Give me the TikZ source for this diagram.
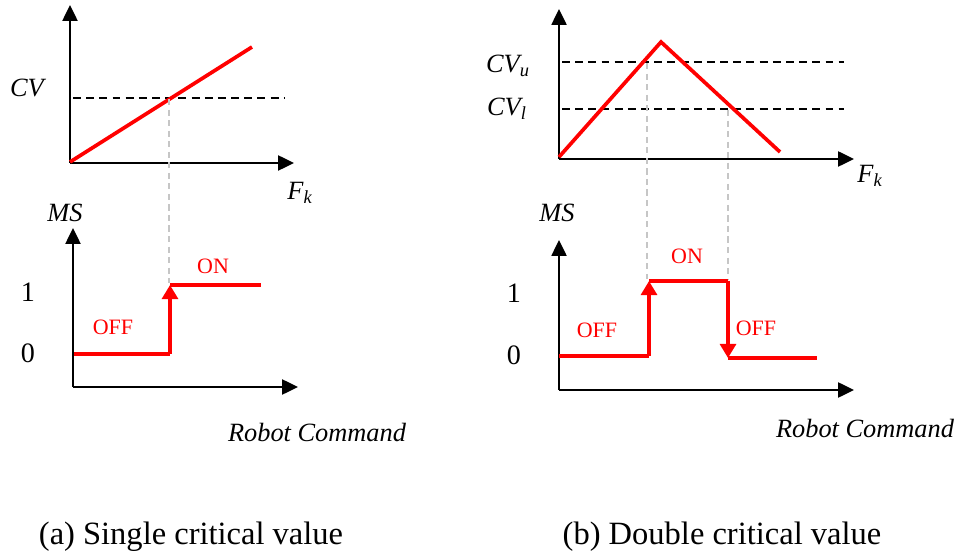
\documentclass[tikz,border=0pt]{standalone}
\usepackage{amsmath}
\usepackage{fontspec}
\setmainfont{Liberation Serif}
\usetikzlibrary{arrows.meta, positioning}

\tikzset{
  axis/.style={line width=1.2pt, -{Triangle[length=9pt,width=8.5pt]}},
  critline/.style={line width=1.2pt, dash pattern=on 4.5pt off 3pt},
  guide/.style={gray!45, line width=0.6pt, dash pattern=on 3.5pt off 2.5pt},
  signal/.style={red, line width=2.1pt, line join=miter},
  switch/.style={signal, -{Triangle[length=8pt,width=9pt]}},
  varlabel/.style={font=\itshape\fontsize{15}{17}\selectfont},
  levellabel/.style={font=\fontsize{16}{18}\selectfont},
  statelabel/.style={red, font=\fontsize{12.5}{14}\selectfont},
  caption/.style={font=\fontsize{18.5}{21}\selectfont}
}

\begin{document}
\begin{tikzpicture}[x=0.02cm, y=-0.02cm]
\useasboundingbox (0,0) rectangle (962,553);

% (a) single critical value
\coordinate (oa) at (70,163);
\coordinate (ya) at (70,5);
\coordinate (xa) at (294,163);
\draw[axis] (oa) -- (ya);
\draw[axis] (oa) -- (xa);
\coordinate (cvs) at (73,98);
\coordinate (cve) at (284,98);
\draw[critline] (cvs) -- (cve);
\coordinate (ra) at (70,162);
\coordinate (rb) at (252,47);
\draw[signal] (ra) -- (rb);
\node[varlabel] (cv) at (27,88) {CV};
\node[varlabel] (fka) at (300,193) {F$_{\textit{k}}$};

\coordinate (msoa) at (73,387);
\coordinate (msya) at (73,228);
\coordinate (msxa) at (298,387);
\draw[axis] (msoa) -- (msya);
\draw[axis] (msoa) -- (msxa);
\node[varlabel] (msa) at (65,213) {MS};
\node[levellabel] (onea) at (28,292) {1};
\node[levellabel] (zeroa) at (28,353) {0};
\coordinate (sa0) at (74,354);
\coordinate (sa1) at (170,354);
\coordinate (sa2) at (170,285);
\coordinate (sa3) at (261,285);
\coordinate (cross) at (169,99);
\draw[guide] (cross) -- (169,283);
\draw[signal] (sa0) -- (sa1);
\draw[switch] (sa1) -- (sa2);
\draw[signal] (sa2) -- (sa3);
\node[statelabel] (ona) at (213,266) {ON};
\node[statelabel] (offa) at (113,327) {OFF};
\node[varlabel] (rca) at (317,432) {Robot Command};

% (b) double critical value
\coordinate (ob) at (559,159);
\coordinate (yb) at (559,9);
\coordinate (xb) at (854,159);
\draw[axis] (ob) -- (yb);
\draw[axis] (ob) -- (xb);
\coordinate (cvus) at (562,62);
\coordinate (cvue) at (844,62);
\coordinate (cvls) at (562,109);
\coordinate (cvle) at (844,109);
\draw[critline] (cvus) -- (cvue);
\draw[critline] (cvls) -- (cvle);
\coordinate (tb0) at (559,157);
\coordinate (tb1) at (661,42);
\coordinate (tb2) at (780,152);
\draw[signal] (tb0) -- (tb1) -- (tb2);
\node[varlabel] (cvu) at (508,66) {CV$_{\textit{u}}$};
\node[varlabel] (cvl) at (507,109) {CV$_{\textit{l}}$};
\node[varlabel] (fkb) at (870,176) {F$_{\textit{k}}$};

\coordinate (msob) at (559,390);
\coordinate (msyb) at (559,240);
\coordinate (msxb) at (854,390);
\draw[axis] (msob) -- (msyb);
\draw[axis] (msob) -- (msxb);
\node[varlabel] (msb) at (557,213) {MS};
\node[levellabel] (oneb) at (514,293) {1};
\node[levellabel] (zerob) at (514,355) {0};
\coordinate (crossu) at (647,63);
\coordinate (crossl) at (728,110);
\draw[guide] (crossu) -- (647,279);
\draw[guide] (crossl) -- (728,279);
\coordinate (sb0) at (559,356);
\coordinate (sb1) at (649,356);
\coordinate (sb2) at (649,281);
\coordinate (sb3) at (728,281);
\coordinate (sb4) at (728,358);
\coordinate (sb5) at (817,358);
\draw[signal] (sb0) -- (sb1);
\draw[switch] (sb1) -- (sb2);
\draw[signal] (sb2) -- (sb3);
\draw[switch] (sb3) -- (sb4);
\draw[signal] (sb4) -- (sb5);
\node[statelabel] (onb) at (687,256) {ON};
\node[statelabel] (offb) at (597,330) {OFF};
\node[statelabel] (offc) at (756,328) {OFF};
\node[varlabel] (rcb) at (865,428) {Robot Command};

\node[caption] (capa) at (191,537) {(a) Single critical value};
\node[caption] (capb) at (722,537) {(b) Double critical value};
\end{tikzpicture}
\end{document}
